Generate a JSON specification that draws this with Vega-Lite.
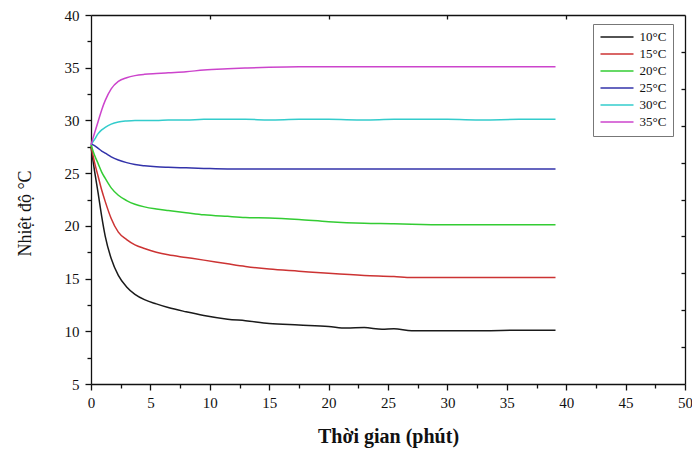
{
  "$schema": "https://vega.github.io/schema/vega-lite/v6.json",
  "width": 594,
  "height": 369,
  "autosize": {"type": "none"},
  "padding": {"left": 91, "top": 15, "right": 7, "bottom": 65},
  "background": "white",
  "config": {
    "view": {"stroke": null},
    "font": "Liberation Serif",
    "axis": {
      "grid": false,
      "domainColor": "#111",
      "tickColor": "#111",
      "labelColor": "#111",
      "titleColor": "#111",
      "labelFont": "Liberation Serif",
      "titleFont": "Liberation Serif",
      "domainWidth": 1.3,
      "tickWidth": 1.3
    }
  },
  "data": {"values": [
    {"s":"10°C","t":0,"v":27.5},{"s":"10°C","t":0.3,"v":25.2},{"s":"10°C","t":0.6,"v":23.1},{"s":"10°C","t":0.9,"v":20.9},{"s":"10°C","t":1.2,"v":19.0},{"s":"10°C","t":1.7,"v":16.9},{"s":"10°C","t":2.3,"v":15.3},{"s":"10°C","t":3.0,"v":14.2},{"s":"10°C","t":3.7,"v":13.5},{"s":"10°C","t":4.5,"v":13.0},{"s":"10°C","t":5.5,"v":12.6},{"s":"10°C","t":6.5,"v":12.25},{"s":"10°C","t":8,"v":11.85},{"s":"10°C","t":9.5,"v":11.5},{"s":"10°C","t":11.5,"v":11.15},{"s":"10°C","t":13,"v":11.0},{"s":"10°C","t":15,"v":10.75},{"s":"10°C","t":17.5,"v":10.6},{"s":"10°C","t":20,"v":10.45},{"s":"10°C","t":21.5,"v":10.3},{"s":"10°C","t":23,"v":10.35},{"s":"10°C","t":24.5,"v":10.2},{"s":"10°C","t":25.5,"v":10.25},{"s":"10°C","t":27,"v":10.05},{"s":"10°C","t":30,"v":10.05},{"s":"10°C","t":33,"v":10.05},{"s":"10°C","t":36,"v":10.1},{"s":"10°C","t":39.1,"v":10.1},
    {"s":"15°C","t":0,"v":27.6},{"s":"15°C","t":0.3,"v":26.0},{"s":"15°C","t":0.6,"v":24.7},{"s":"15°C","t":0.9,"v":23.4},{"s":"15°C","t":1.2,"v":22.3},{"s":"15°C","t":1.7,"v":20.7},{"s":"15°C","t":2.3,"v":19.4},{"s":"15°C","t":3.0,"v":18.7},{"s":"15°C","t":3.7,"v":18.2},{"s":"15°C","t":4.5,"v":17.85},{"s":"15°C","t":5.5,"v":17.5},{"s":"15°C","t":6.5,"v":17.25},{"s":"15°C","t":8,"v":17.0},{"s":"15°C","t":9.5,"v":16.75},{"s":"15°C","t":11.5,"v":16.4},{"s":"15°C","t":13,"v":16.15},{"s":"15°C","t":15,"v":15.9},{"s":"15°C","t":17.5,"v":15.7},{"s":"15°C","t":20,"v":15.5},{"s":"15°C","t":23,"v":15.3},{"s":"15°C","t":25.5,"v":15.2},{"s":"15°C","t":27,"v":15.1},{"s":"15°C","t":30,"v":15.1},{"s":"15°C","t":33,"v":15.1},{"s":"15°C","t":36,"v":15.1},{"s":"15°C","t":39.1,"v":15.1},
    {"s":"20°C","t":0,"v":27.7},{"s":"20°C","t":0.3,"v":26.7},{"s":"20°C","t":0.6,"v":25.9},{"s":"20°C","t":0.9,"v":25.1},{"s":"20°C","t":1.2,"v":24.5},{"s":"20°C","t":1.7,"v":23.6},{"s":"20°C","t":2.3,"v":22.9},{"s":"20°C","t":3.0,"v":22.4},{"s":"20°C","t":3.7,"v":22.05},{"s":"20°C","t":4.5,"v":21.8},{"s":"20°C","t":5.5,"v":21.6},{"s":"20°C","t":6.5,"v":21.45},{"s":"20°C","t":8,"v":21.25},{"s":"20°C","t":9.5,"v":21.05},{"s":"20°C","t":11.5,"v":20.9},{"s":"20°C","t":13,"v":20.8},{"s":"20°C","t":15,"v":20.75},{"s":"20°C","t":17.5,"v":20.6},{"s":"20°C","t":20,"v":20.4},{"s":"20°C","t":23,"v":20.25},{"s":"20°C","t":25.5,"v":20.2},{"s":"20°C","t":27,"v":20.15},{"s":"20°C","t":30,"v":20.1},{"s":"20°C","t":33,"v":20.1},{"s":"20°C","t":36,"v":20.1},{"s":"20°C","t":39.1,"v":20.1},
    {"s":"25°C","t":0,"v":27.8},{"s":"25°C","t":0.3,"v":27.6},{"s":"25°C","t":0.6,"v":27.35},{"s":"25°C","t":0.9,"v":27.1},{"s":"25°C","t":1.2,"v":26.9},{"s":"25°C","t":1.7,"v":26.55},{"s":"25°C","t":2.3,"v":26.25},{"s":"25°C","t":3.0,"v":26.0},{"s":"25°C","t":3.7,"v":25.82},{"s":"25°C","t":4.5,"v":25.7},{"s":"25°C","t":5.5,"v":25.6},{"s":"25°C","t":6.5,"v":25.55},{"s":"25°C","t":8,"v":25.5},{"s":"25°C","t":9.5,"v":25.45},{"s":"25°C","t":11.5,"v":25.4},{"s":"25°C","t":13,"v":25.4},{"s":"25°C","t":15,"v":25.4},{"s":"25°C","t":17.5,"v":25.4},{"s":"25°C","t":20,"v":25.4},{"s":"25°C","t":23,"v":25.4},{"s":"25°C","t":25.5,"v":25.4},{"s":"25°C","t":27,"v":25.4},{"s":"25°C","t":30,"v":25.4},{"s":"25°C","t":33,"v":25.4},{"s":"25°C","t":36,"v":25.4},{"s":"25°C","t":39.1,"v":25.4},
    {"s":"30°C","t":0,"v":27.7},{"s":"30°C","t":0.3,"v":28.2},{"s":"30°C","t":0.6,"v":28.75},{"s":"30°C","t":0.9,"v":29.1},{"s":"30°C","t":1.2,"v":29.35},{"s":"30°C","t":1.7,"v":29.65},{"s":"30°C","t":2.3,"v":29.85},{"s":"30°C","t":3.0,"v":29.95},{"s":"30°C","t":3.7,"v":30.0},{"s":"30°C","t":4.5,"v":30.0},{"s":"30°C","t":5.5,"v":30.0},{"s":"30°C","t":6.5,"v":30.05},{"s":"30°C","t":8,"v":30.05},{"s":"30°C","t":9.5,"v":30.1},{"s":"30°C","t":11.5,"v":30.1},{"s":"30°C","t":13,"v":30.1},{"s":"30°C","t":15,"v":30.05},{"s":"30°C","t":17.5,"v":30.1},{"s":"30°C","t":20,"v":30.1},{"s":"30°C","t":23,"v":30.05},{"s":"30°C","t":25.5,"v":30.1},{"s":"30°C","t":27,"v":30.1},{"s":"30°C","t":30,"v":30.1},{"s":"30°C","t":33,"v":30.05},{"s":"30°C","t":36,"v":30.1},{"s":"30°C","t":39.1,"v":30.1},
    {"s":"35°C","t":0,"v":27.7},{"s":"35°C","t":0.3,"v":28.8},{"s":"35°C","t":0.6,"v":29.9},{"s":"35°C","t":0.9,"v":31.0},{"s":"35°C","t":1.2,"v":31.9},{"s":"35°C","t":1.7,"v":33.0},{"s":"35°C","t":2.3,"v":33.7},{"s":"35°C","t":3.0,"v":34.05},{"s":"35°C","t":3.7,"v":34.25},{"s":"35°C","t":4.5,"v":34.37},{"s":"35°C","t":5.5,"v":34.45},{"s":"35°C","t":6.5,"v":34.52},{"s":"35°C","t":8,"v":34.62},{"s":"35°C","t":9.5,"v":34.78},{"s":"35°C","t":11.5,"v":34.9},{"s":"35°C","t":13,"v":34.97},{"s":"35°C","t":15,"v":35.05},{"s":"35°C","t":17.5,"v":35.1},{"s":"35°C","t":20,"v":35.1},{"s":"35°C","t":23,"v":35.1},{"s":"35°C","t":25.5,"v":35.1},{"s":"35°C","t":27,"v":35.1},{"s":"35°C","t":30,"v":35.1},{"s":"35°C","t":33,"v":35.1},{"s":"35°C","t":36,"v":35.1},{"s":"35°C","t":39.1,"v":35.1}
  ]},
  "resolve": {"axis": {"x": "independent", "y": "independent"}},
  "layer": [
    {
      "mark": {"type": "line", "strokeWidth": 1.5, "interpolate": "monotone"},
      "encoding": {
        "x": {"field": "t", "type": "quantitative",
          "scale": {"domain": [0, 50], "nice": false, "zero": false},
          "axis": {"orient": "bottom", "values": [0,5,10,15,20,25,30,35,40,45,50], "tickSize": 6,
            "labelFontSize": 15, "labelPadding": 5, "labelFlush": false,
            "title": "Thời gian (phút)", "titleFontSize": 20, "titleFontWeight": "bold",
            "titleY": 58, "titleBaseline": "alphabetic"}},
        "y": {"field": "v", "type": "quantitative",
          "scale": {"domain": [5, 40], "nice": false, "zero": false},
          "axis": {"orient": "left", "values": [5,10,15,20,25,30,35,40], "tickSize": 6,
            "labelFontSize": 15, "labelPadding": 6, "labelFlush": false,
            "title": "Nhiệt độ °C", "titleFontSize": 18, "titleFontWeight": "normal",
            "titleX": -66, "titleY": 198, "titleAngle": -90, "titleBaseline": "middle", "titleAlign": "center"}},
        "color": {"field": "s", "type": "nominal",
          "scale": {"domain": ["10°C","15°C","20°C","25°C","30°C","35°C"],
                    "range": ["#1a1a1a","#cc3333","#33cc33","#3333aa","#33cccc","#cc44cc"]},
          "legend": {"title": null, "orient": "none", "legendX": 502, "legendY": 9,
            "symbolType": "M-1,0H5", "symbolSize": 121, "symbolStrokeWidth": 1.5,
            "labelFont": "Liberation Serif", "labelFontSize": 13, "labelOffset": 27, "labelColor": "#111",
            "padding": 6.5, "rowPadding": 3, "strokeColor": "#777", "fillColor": "white"}}
      }
    },
    {
      "mark": {"type": "line", "opacity": 0},
      "encoding": {
        "x": {"field": "t", "type": "quantitative",
          "axis": {"orient": "bottom", "values": [2.5,7.5,12.5,17.5,22.5,27.5,32.5,37.5,42.5,47.5], "tickSize": 4,
            "labels": false, "domain": false, "title": null}},
        "y": {"field": "v", "type": "quantitative",
          "axis": {"orient": "left", "values": [7.5,12.5,17.5,22.5,27.5,32.5,37.5], "tickSize": 4,
            "labels": false, "domain": false, "title": null}},
        "detail": {"field": "s"}
      }
    },
    {
      "mark": {"type": "line", "opacity": 0},
      "encoding": {
        "x": {"field": "t", "type": "quantitative",
          "axis": {"orient": "top", "values": [10,20,30,40], "tickSize": -4,
            "labels": false, "domain": true, "title": null}},
        "y": {"field": "v", "type": "quantitative",
          "axis": {"orient": "right", "values": [8.5,12,15.5,19,22.5,26,29.5,33,36.5], "tickSize": -4,
            "labels": false, "domain": true, "title": null}},
        "detail": {"field": "s"}
      }
    }
  ]
}
